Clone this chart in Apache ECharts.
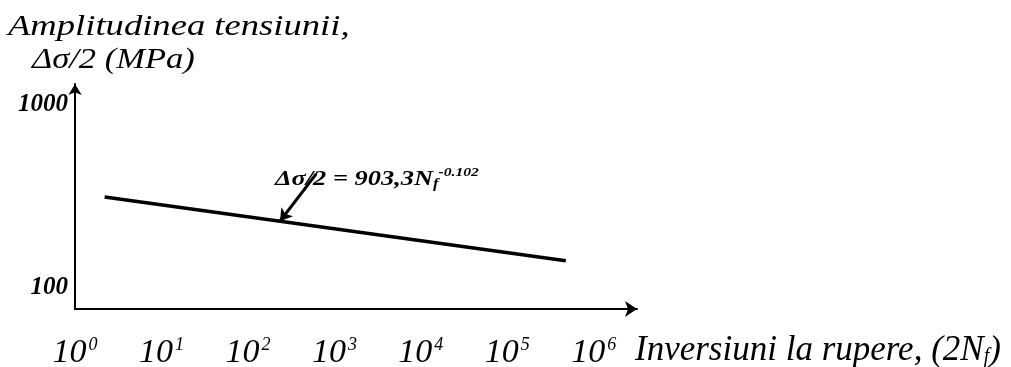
<!DOCTYPE html>
<html>
<head>
<meta charset="utf-8">
<script src="https://cdn.jsdelivr.net/npm/echarts@6/dist/echarts.min.js"></script>
<style>
  html, body { margin: 0; padding: 0; background: #fff; }
  #chart { width: 1011px; height: 367px; }
</style>
</head>
<body>
<div id="chart"></div>
<script>
// Basquin fit: stress amplitude vs. reversals to failure, log-log axes
const reversals = [2.2, 4.75e5];       // 2N_f
const stressAmplitude = [314, 141];    // Δσ/2 (MPa)

// decade labels (exponents of 10)
const xDecades = [0, 1, 2, 3, 4, 5, 6];
const yDecades = [2, 3];

// axis extents, as exponents of 10
const xExtent = [0, 6.5];
const yExtent = [1.885, 3.115];

// callout arrow: tail under the equation, head on the fitted line
const arrowTail = [10 ** 2.79, 420];
const arrowHeadN = 10 ** 2.37;

const lg = Math.log10;
const lineData = reversals.map((n, i) => [lg(n), lg(stressAmplitude[i])]);

// stress exponent on the fitted line at a given N (straight in log-log space)
function lineAt(n) {
  const [p0, p1] = lineData;
  const t = (lg(n) - p0[0]) / (p1[0] - p0[0]);
  return p0[1] + t * (p1[1] - p0[1]);
}

const serif = 'Liberation Serif';
const txt = (size, weight) => ({ fontFamily: serif, fontStyle: 'italic', fontWeight: weight || 'normal', fontSize: size, fill: '#000' });

const chart = echarts.init(document.getElementById('chart'));

chart.setOption({
  animation: false,
  backgroundColor: '#fff',
  grid: { left: 75, right: 374, top: 84, bottom: 58, containLabel: false, outerBoundsMode: 'none' },
  xAxis: {
    type: 'value',
    min: xExtent[0], max: xExtent[1],
    axisLine: { show: true, symbol: ['none', 'arrow'], symbolSize: [12, 12], lineStyle: { color: '#000', width: 2 } },
    axisTick: { show: false },
    splitLine: { show: false },
    axisLabel: {
      customValues: xDecades,
      margin: 27,
      formatter: v => '{b|10}{s|' + Math.round(v) + '}',
      rich: {
        b: { fontFamily: serif, fontStyle: 'italic', fontSize: 34, color: '#000' },
        s: { fontFamily: serif, fontStyle: 'italic', fontSize: 18, color: '#000', padding: [0, 0, 17, 2] }
      }
    },
    name: '{n|Inversiuni la rupere, (2N}{f|f}{n|)}',
    nameLocation: 'end',
    nameGap: -2,
    nameTextStyle: {
      verticalAlign: 'top',
      padding: [24, 0, 0, 0],
      rich: {
        n: { fontFamily: serif, fontStyle: 'italic', fontSize: 35, color: '#000' },
        f: { fontFamily: serif, fontStyle: 'italic', fontSize: 20, color: '#000', padding: [12, 0, 0, 0] }
      }
    }
  },
  yAxis: {
    type: 'value',
    min: yExtent[0], max: yExtent[1],
    axisLine: { show: true, symbol: ['none', 'arrow'], symbolSize: [10, 11], lineStyle: { color: '#000', width: 2 } },
    axisTick: { show: false },
    splitLine: { show: false },
    axisLabel: {
      customValues: yDecades,
      margin: 7,
      formatter: v => String(Math.round(10 ** v)),
      fontFamily: serif, fontStyle: 'italic', fontWeight: 'bold', fontSize: 25, color: '#000'
    }
  },
  series: [
    {
      type: 'line',
      data: lineData,
      symbol: 'none',
      lineStyle: { color: '#000', width: 3.5 },
      markLine: {
        silent: true,
        symbol: ['none', 'arrow'],
        symbolSize: [11, 12],
        label: { show: false },
        lineStyle: { color: '#000', width: 3, type: 'solid' },
        data: [[
          { coord: [lg(arrowTail[0]), lg(arrowTail[1])] },
          { coord: [lg(arrowHeadN), lineAt(arrowHeadN)] }
        ]]
      }
    }
  ],
  graphic: [
    {
      type: 'text', x: 8, y: 12, scaleX: 1.22,
      style: Object.assign({ text: 'Amplitudinea tensiunii,', verticalAlign: 'top' }, txt(30))
    },
    {
      type: 'text', x: 32, y: 45, scaleX: 1.15,
      style: Object.assign({ text: 'Δσ/2 (MPa)', verticalAlign: 'top' }, txt(30))
    },
    {
      type: 'text', x: 275, y: 166, scaleX: 1.2,
      style: {
        text: '{m|Δσ/2 = 903,3N}{f|f}{p|-0.102}',
        verticalAlign: 'top',
        rich: {
          m: txt(22, 'bold'),
          f: Object.assign(txt(14, 'bold'), { padding: [10, 0, 0, 0] }),
          p: Object.assign(txt(13, 'bold'), { padding: [0, 0, 14, 0] })
        }
      }
    }
  ]
});
</script>
</body>
</html>
